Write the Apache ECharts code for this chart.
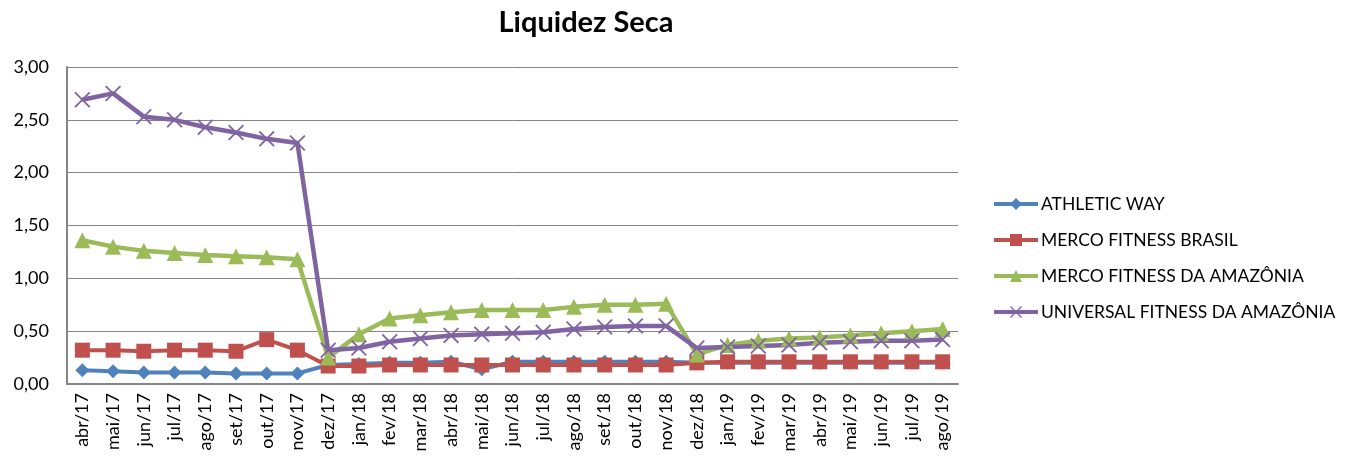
<!DOCTYPE html>
<html>
<head>
<meta charset="utf-8">
<script src="https://cdn.jsdelivr.net/npm/echarts@6/dist/echarts.min.js"></script>
<style>html,body{margin:0;padding:0;background:#fff}#c{width:1346px;height:459px}</style>
</head>
<body>
<div id="c"></div>
<script>
const categories = ['abr/17','mai/17','jun/17','jul/17','ago/17','set/17','out/17','nov/17','dez/17','jan/18','fev/18','mar/18','abr/18','mai/18','jun/18','jul/18','ago/18','set/18','out/18','nov/18','dez/18','jan/19','fev/19','mar/19','abr/19','mai/19','jun/19','jul/19','ago/19'];
const athleticWay = [0.13,0.12,0.11,0.11,0.11,0.10,0.10,0.10,0.18,0.19,0.20,0.20,0.21,0.14,0.21,0.21,0.21,0.21,0.21,0.21,0.20,0.20,0.20,0.20,0.20,0.20,0.20,0.20,0.20];
const mercoBrasil = [0.32,0.32,0.31,0.32,0.32,0.31,0.42,0.32,0.17,0.17,0.18,0.18,0.18,0.18,0.18,0.18,0.18,0.18,0.18,0.18,0.20,0.21,0.21,0.21,0.21,0.21,0.21,0.21,0.21];
const mercoAmazonia = [1.36,1.30,1.26,1.24,1.22,1.21,1.20,1.18,0.25,0.47,0.62,0.65,0.68,0.70,0.70,0.70,0.73,0.75,0.75,0.76,0.28,0.37,0.41,0.43,0.44,0.46,0.48,0.50,0.52];
const universalAmazonia = [2.69,2.75,2.53,2.50,2.43,2.38,2.32,2.28,0.32,0.34,0.40,0.43,0.46,0.47,0.48,0.49,0.52,0.54,0.55,0.55,0.34,0.35,0.36,0.37,0.39,0.40,0.41,0.41,0.42];
const seriesNames = ['ATHLETIC WAY','MERCO FITNESS BRASIL','MERCO FITNESS DA AMAZÔNIA','UNIVERSAL FITNESS DA AMAZÔNIA'];

const xPath = 'path://M0,0.8 L0.8,0 L5,4.2 L9.2,0 L10,0.8 L5.8,5 L10,9.2 L9.2,10 L5,5.8 L0.8,10 L0,9.2 L4.2,5 Z';
const font = 'Lato, "Open Sans", sans-serif';
const chart = echarts.init(document.getElementById('c'), null, {renderer:'canvas'});
function mk(name, data, color, symbol, size, width){
  return {name, type:'line', data, symbol, symbolSize:size, showSymbol:true,
    lineStyle:{color, width}, itemStyle:{color}, animation:false, z: 2};
}
chart.setOption({
  animation:false,
  title:{text:'Liquidez Seca', left:581, top:3, textAlign:'center',
    textStyle:{fontFamily:font, fontSize:29, fontWeight:'bold', color:'#000'}},
  grid:{left:67, right:388, top:67, bottom:75, containLabel:false},
  legend:{orient:'vertical', left:987, top:190, itemGap:18, itemWidth:44, itemHeight:15,
    lineStyle:{width:4},
    textStyle:{fontFamily:font, fontSize:17.5, color:'#000', padding:[0,0,0,-2]},
    data: seriesNames},
  xAxis:{type:'category', data:categories, boundaryGap:true,
    axisLine:{lineStyle:{color:'#868686', width:2}},
    axisTick:{show:false},
    axisLabel:{rotate:90, fontFamily:font, fontSize:18, color:'#000', margin:9, interval:0},
    splitLine:{show:false}},
  yAxis:{type:'value', min:0, max:3, interval:0.5,
    axisLine:{show:true, lineStyle:{color:'#868686', width:2}},
    axisTick:{show:false},
    axisLabel:{fontFamily:font, fontSize:18, color:'#000', margin:18,
      formatter:v=>v.toFixed(2).replace('.',',')},
    splitLine:{lineStyle:{color:'#868686', width:1}}},
  series:[
    mk(seriesNames[0], athleticWay, '#4F81BD', 'diamond', 14, 4),
    mk(seriesNames[1], mercoBrasil, '#C0504D', 'rect', 15, 4),
    mk(seriesNames[2], mercoAmazonia, '#9BBB59', 'triangle', 16, 4.5),
    mk(seriesNames[3], universalAmazonia, '#8064A2', xPath, 16, 4.5)
  ]
});
</script>
</body>
</html>
